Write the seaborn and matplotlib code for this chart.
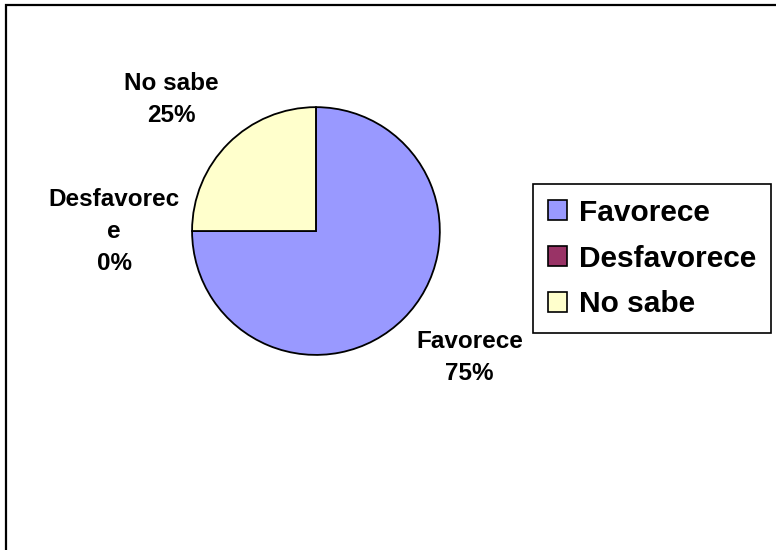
import matplotlib
matplotlib.use("Agg")
from matplotlib import pyplot as plt
from matplotlib.patches import Patch, Rectangle
import seaborn as sns

# 数据
categories = ['Favorece', 'Desfavorece', 'No sabe']
values = [75, 0, 25]
slice_labels = ['Favorece', 'Desfavorec\ne', 'No sabe']  # 原图里标签被折行
colors = ['#9999FF', '#993366', '#FFFFCC']

sns.set_theme(style="white")
plt.rcParams['font.family'] = ['Liberation Sans', 'DejaVu Sans']
plt.rcParams['font.weight'] = 'bold'
plt.rcParams['text.color'] = 'black'

fig = plt.figure(figsize=(7.76, 5.5), dpi=100)
fig.patch.set_facecolor('white')

# 外框（只看到左边和上边）
fig.patches.append(Rectangle((6 / 776, -0.1), 1.2, 1 - 5 / 550 + 0.1,
                             transform=fig.transFigure, fill=False,
                             edgecolor='black', linewidth=1.6))

ax = fig.add_axes([0.1198, 0.1745, 0.5747, 0.8109])
palette = sns.color_palette(colors)
wedges, _ = ax.pie(values, colors=palette, startangle=90, counterclock=False,
                   wedgeprops={'edgecolor': 'black', 'linewidth': 1.3})
ax.set_aspect('equal')
ax.set_xlim(-1.8, 1.8)
ax.set_ylim(-1.8, 1.8)
ax.axis('off')

# 标签位置（以半径为单位）
label_pos = [(1.24, -1.02), (-1.63, 0.0), (-1.17, 1.06)]
total = sum(values)
for lab, v, (x, y) in zip(slice_labels, values, label_pos):
    ax.text(x, y, f"{lab}\n{round(v / total * 100)}%", ha='center', va='center',
            multialignment='center', fontsize=17.5, fontweight='bold',
            linespacing=1.5, color='black')

handles = [Patch(facecolor=c, edgecolor='black', linewidth=1.2) for c in palette]
leg = fig.legend(handles, categories, loc='center left',
                 bbox_to_anchor=(533 / 776, 1 - 258.5 / 550),
                 prop={'size': 21.5, 'weight': 'bold'}, frameon=True, fancybox=False,
                 edgecolor='black', framealpha=1, handlelength=0.65, handleheight=0.65,
                 handletextpad=0.4, labelspacing=0.6, borderpad=0.5,
                 borderaxespad=0)
leg.get_frame().set_linewidth(1.2)
for t in leg.get_texts():
    t.set_color('black')

fig.savefig('out.png', dpi=100, facecolor='white')
